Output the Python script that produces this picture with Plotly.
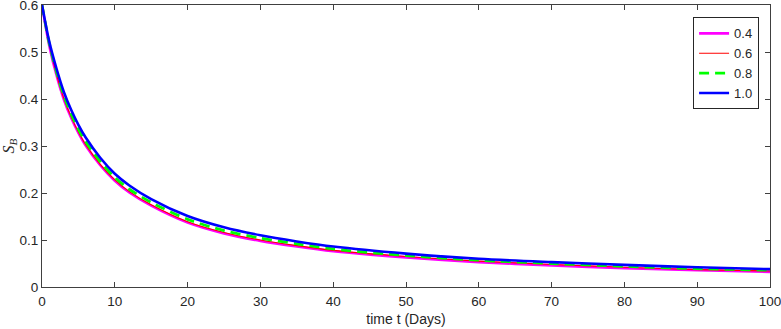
import plotly.graph_objects as go

t_days = [0, 1, 2, 3, 4, 5, 6, 8, 10, 12, 15, 20, 25, 30, 35, 40, 50, 60, 70, 80, 90, 100]

s_04 = [0.600, 0.513, 0.450, 0.399, 0.360, 0.328, 0.301, 0.259, 0.226, 0.201, 0.173, 0.137,
        0.114, 0.098, 0.086, 0.076, 0.063, 0.053, 0.046, 0.040, 0.036, 0.032]
s_06 = [0.600, 0.515, 0.452, 0.401, 0.362, 0.330, 0.303, 0.261, 0.228, 0.203, 0.175, 0.139,
        0.116, 0.100, 0.088, 0.078, 0.065, 0.055, 0.048, 0.042, 0.037, 0.034]
s_08 = [0.600, 0.518, 0.457, 0.407, 0.368, 0.336, 0.309, 0.267, 0.233, 0.208, 0.180, 0.144,
        0.120, 0.104, 0.092, 0.081, 0.067, 0.057, 0.050, 0.044, 0.039, 0.036]
s_10 = [0.600, 0.522, 0.464, 0.415, 0.377, 0.345, 0.318, 0.275, 0.241, 0.216, 0.187, 0.151,
        0.127, 0.110, 0.097, 0.086, 0.071, 0.060, 0.053, 0.047, 0.042, 0.038]

series_names = ["0.4", "0.6", "0.8", "1.0"]
series_colors = ["#FF00FF", "#FF0000", "#00FF00", "#0000FF"]
x_ticks = [0, 10, 20, 30, 40, 50, 60, 70, 80, 90, 100]
y_ticks = [0, 0.1, 0.2, 0.3, 0.4, 0.5, 0.6]
y_tick_text = ["0", "0.1", "0.2", "0.3", "0.4", "0.5", "0.6"]

styles = [dict(width=2.6), dict(width=1.1), dict(width=2.8, dash="10px,6px"), dict(width=2.6)]

fig = go.Figure()
for name, ys, col, st in zip(series_names, [s_04, s_06, s_08, s_10], series_colors, styles):
    fig.add_trace(go.Scatter(x=t_days, y=ys, mode="lines", name=name,
                             line=dict(color=col, shape="spline", smoothing=0.8, **st)))

axis_col = "#404040"
font = dict(family="Liberation Sans, Arial, sans-serif", size=14, color="#262626")
tick_font = dict(family="Liberation Sans, Arial, sans-serif", size=13.5, color="#262626")

fig.update_layout(
    width=781, height=329,
    margin=dict(l=42, r=11, t=5, b=42, autoexpand=False),
    paper_bgcolor="white", plot_bgcolor="white",
    font=font,
    showlegend=True,
    legend=dict(x=0.985, y=0.956, xanchor="right", yanchor="top",
                bgcolor="white", bordercolor="#262626", borderwidth=1,
                font=dict(family="Liberation Sans, Arial, sans-serif", size=13, color="#262626"),
                tracegroupgap=0, itemwidth=30),
)
fig.update_xaxes(range=[0, 100], tickvals=x_ticks, ticks="inside", ticklen=5, tickcolor=axis_col,
                 showline=True, linecolor=axis_col, linewidth=1, mirror="ticks",
                 showgrid=False, zeroline=False, automargin=False, ticklabelstandoff=2,
                 ticklabeloverflow="allow", tickfont=tick_font,
                 title=dict(text="time t (Days)", standoff=5, font=font))
fig.update_yaxes(range=[0, 0.6], tickvals=y_ticks, ticktext=y_tick_text, ticks="inside", ticklen=5,
                 tickcolor=axis_col, showline=True, linecolor=axis_col, linewidth=1, mirror="ticks",
                 showgrid=False, zeroline=False, automargin=False,
                 ticklabeloverflow="allow", tickfont=tick_font,
                 title=dict(text="<i>S</i><sub><i>B</i></sub>", standoff=2,
                            font=dict(family="Liberation Serif, serif", size=16, color="#262626")))

fig.write_html("out.html", config={"displayModeBar": False})

# remove the browser's default 8px body margin so the figure fills the window exactly
with open("out.html", "r", encoding="utf-8") as f:
    html = f.read()
html = html.replace("<body>", '<body style="margin:0;padding:0;overflow:hidden">', 1)
with open("out.html", "w", encoding="utf-8") as f:
    f.write(html)
